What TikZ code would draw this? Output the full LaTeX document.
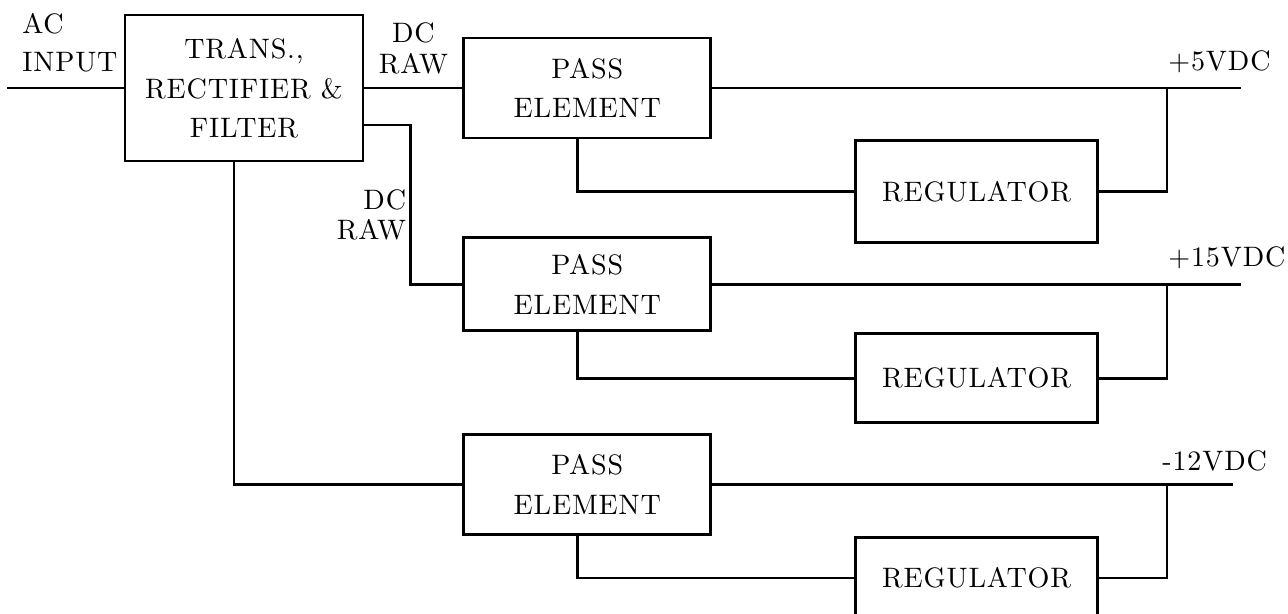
\documentclass[tikz,border=0pt]{standalone}
\usepackage{fontspec}
\setmainfont{lmroman10-regular}[Extension=.otf, LetterSpace=3]
\usetikzlibrary{positioning,calc}
\newcommand{\blockfont}{\fontsize{16}{22.5}\selectfont}
\tikzset{
  psublock/.style={
    draw,
    line width=1.6pt,
    align=center,
    inner sep=0pt,
    minimum width=4.94cm,
    minimum height=2cm
  },
  regblock/.style={
    draw,
    line width=1.6pt,
    align=center,
    inner sep=0pt,
    minimum width=4.84cm
  },
  psuline/.style={
    line width=1.6pt
  },
  rawlabel/.style={
    align=center,
    inner sep=0pt,
    font=\fontsize{16}{17.5}\selectfont
  },
  outlabel/.style={
    inner sep=0pt
  }
}

\begin{document}
\begin{tikzpicture}[font=\blockfont, node distance=1.94cm]
    \useasboundingbox (0,0) rectangle (25.76,-12.26);

    \node[psublock, minimum width=4.76cm, minimum height=2.92cm] (trans) at (4.88,-1.76) {\raisebox{-0.16cm}[0pt][0pt]{\parbox{4.5cm}{\centering TRANS.,\\RECTIFIER \&\\FILTER}}};
    \node[psublock, right=1.96cm of trans] (pass1) {PASS\\ELEMENT};
    \node[psublock, below=of pass1, minimum height=1.86cm] (pass2) {PASS\\ELEMENT};
    \node[psublock, below=2.02cm of pass2] (pass3) {PASS\\ELEMENT};
    \node[regblock, below right=0cm and 2.84cm of pass1, minimum height=2.04cm] (reg1) {REGULATOR};
    \node[regblock, below right=0cm and 2.84cm of pass2, minimum height=1.78cm] (reg2) {REGULATOR};
    \node[regblock, below right=0cm and 2.84cm of pass3, minimum height=1.62cm] (reg3) {REGULATOR};

    % input side
    \coordinate (acin) at (0.14,-1.76);
    \coordinate (mid1) at ($(trans.east)!0.5!(pass1.west)$);
    \coordinate (bend2) at ($(trans.east)+(0.92,-0.74)$);
    \node[align=left, inner sep=0pt, font=\fontsize{16}{21.5}\selectfont, above right=0.32cm and 0.3cm of acin] (acinput) {AC\\INPUT};
    \node[rawlabel, above=0.28cm of mid1] (raw1) {DC\\RAW};
    \node[rawlabel, align=right, below left=1.28cm and 0.08cm of bend2] (raw2) {DC\\RAW};

    % output side
    \coordinate (jcol) at (23.34,0);
    \coordinate (endcol) at (24.82,0);
    \coordinate (j1) at (pass1.east -| jcol);
    \coordinate (j2) at (pass2.east -| jcol);
    \coordinate (j3) at (pass3.east -| jcol);
    \coordinate (o1) at (pass1.east -| endcol);
    \coordinate (o2) at (pass2.east -| endcol);
    \coordinate (o3) at ($(pass3.east -| endcol)+(-0.16,0)$);
    \node[outlabel, above right=0.3cm and 0.02cm of j1] (v5) {+5VDC};
    \node[outlabel, above right=0.3cm and 0.02cm of j2] (v15) {+15VDC};
    \node[outlabel, above right=0.26cm and -0.1cm of j3] (v12) {-12VDC};

    \draw[psuline] (acin) -- (trans);
    \draw[psuline] (trans) -- (pass1);
    \draw[psuline] (trans.east |- bend2) -- (bend2) |- (pass2.west);
    \draw[psuline] ([xshift=-0.2cm]trans.south) |- (pass3.west);

    \draw[psuline] (pass1) -- (o1);
    \draw[psuline] (pass2) -- (o2);
    \draw[psuline] (pass3) -- (o3);
    \draw[psuline] ([xshift=-0.2cm]pass1.south) |- (reg1.west);
    \draw[psuline] ([xshift=-0.2cm]pass2.south) |- (reg2.west);
    \draw[psuline] ([xshift=-0.2cm]pass3.south) |- (reg3.west);
    \draw[psuline] (reg1.east) -| (j1);
    \draw[psuline] (reg2.east) -| (j2);
    \draw[psuline] (reg3.east) -| (j3);
  \end{tikzpicture}
\end{document}
